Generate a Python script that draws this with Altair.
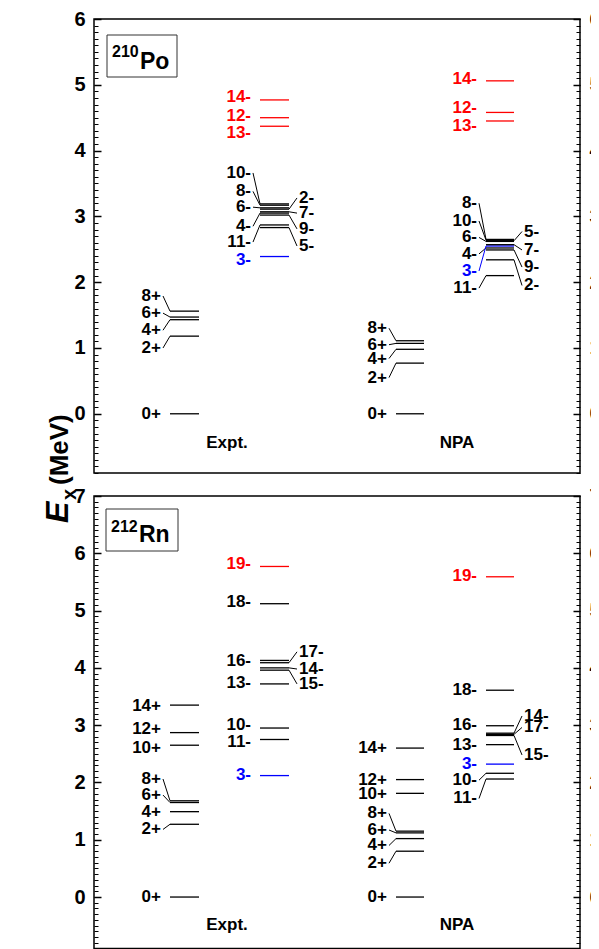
import altair as alt
import pandas as pd

FONT = "Liberation Sans"

# ---------------- 210Po ----------------
PO_ISOTOPE = ["210", "Po"]
PO_EXPT_POS_SPIN = ["0+", "2+", "4+", "6+", "8+"]
PO_EXPT_POS_E = [0.00, 1.18, 1.43, 1.47, 1.56]
PO_EXPT_POS_LABEL = [0.00, 1.00, 1.27, 1.53, 1.79]
PO_EXPT_POS_LINK = [0, 1, 1, 1, 1]

PO_EXPT_NEG_SPIN = ["14-", "12-", "13-", "10-", "8-", "6-", "4-", "11-", "3-", "2-", "7-", "9-", "5-"]
PO_EXPT_NEG_E = [4.77, 4.50, 4.37, 3.19, 3.17, 3.13, 3.05, 2.87, 2.39, 3.11, 3.07, 3.02, 2.83]
PO_EXPT_NEG_LABEL = [4.82, 4.53, 4.27, 3.66, 3.38, 3.14, 2.85, 2.61, 2.34, 3.28, 3.05, 2.81, 2.55]
PO_EXPT_NEG_SIDE = ["L"] * 9 + ["R"] * 4
PO_EXPT_NEG_LINK = [0, 0, 0, 1, 1, 1, 1, 1, 0, 1, 1, 1, 1]
PO_EXPT_NEG_GROUP = ["high"] * 3 + ["base"] * 5 + ["oct"] + ["base"] * 4

PO_NPA_POS_SPIN = ["0+", "2+", "4+", "6+", "8+"]
PO_NPA_POS_E = [0.00, 0.77, 0.98, 1.07, 1.11]
PO_NPA_POS_LABEL = [0.00, 0.55, 0.84, 1.05, 1.30]
PO_NPA_POS_LINK = [0, 1, 1, 1, 1]

PO_NPA_NEG_SPIN = ["14-", "12-", "13-", "8-", "10-", "6-", "4-", "3-", "11-", "5-", "7-", "9-", "2-"]
PO_NPA_NEG_E = [5.06, 4.58, 4.45, 2.65, 2.64, 2.62, 2.52, 2.55, 2.10, 2.63, 2.57, 2.49, 2.34]
PO_NPA_NEG_LABEL = [5.09, 4.64, 4.37, 3.20, 2.93, 2.68, 2.43, 2.17, 1.91, 2.77, 2.49, 2.23, 1.95]
PO_NPA_NEG_SIDE = ["L"] * 9 + ["R"] * 4
PO_NPA_NEG_LINK = [0, 0, 0, 1, 1, 1, 1, 1, 1, 1, 1, 1, 1]
PO_NPA_NEG_GROUP = ["high"] * 3 + ["base"] * 4 + ["oct"] + ["base"] * 5

# ---------------- 212Rn ----------------
RN_ISOTOPE = ["212", "Rn"]
RN_EXPT_POS_SPIN = ["0+", "2+", "4+", "6+", "8+", "10+", "12+", "14+"]
RN_EXPT_POS_E = [0.00, 1.27, 1.49, 1.65, 1.68, 2.65, 2.87, 3.35]
RN_EXPT_POS_LABEL = [0.00, 1.18, 1.49, 1.78, 2.06, 2.61, 2.94, 3.34]
RN_EXPT_POS_LINK = [0, 1, 0, 1, 1, 0, 0, 0]

RN_EXPT_NEG_SPIN = ["19-", "18-", "16-", "13-", "10-", "11-", "3-", "17-", "14-", "15-"]
RN_EXPT_NEG_E = [5.77, 5.12, 4.13, 3.72, 2.95, 2.75, 2.12, 4.09, 4.00, 3.96]
RN_EXPT_NEG_LABEL = [5.81, 5.15, 4.12, 3.74, 3.00, 2.71, 2.13, 4.28, 3.98, 3.72]
RN_EXPT_NEG_SIDE = ["L"] * 7 + ["R"] * 3
RN_EXPT_NEG_LINK = [0, 0, 0, 0, 0, 0, 0, 1, 1, 1]
RN_EXPT_NEG_GROUP = ["high"] + ["base"] * 5 + ["oct"] + ["base"] * 3

RN_NPA_POS_SPIN = ["0+", "2+", "4+", "6+", "8+", "10+", "12+", "14+"]
RN_NPA_POS_E = [0.00, 0.80, 1.02, 1.12, 1.15, 1.81, 2.05, 2.60]
RN_NPA_POS_LABEL = [0.00, 0.59, 0.90, 1.17, 1.46, 1.79, 2.04, 2.60]
RN_NPA_POS_LINK = [0, 1, 1, 1, 1, 0, 0, 0]

RN_NPA_NEG_SPIN = ["19-", "18-", "16-", "13-", "3-", "10-", "11-", "14-", "17-", "15-"]
RN_NPA_NEG_E = [5.59, 3.61, 2.99, 2.66, 2.32, 2.16, 2.06, 2.86, 2.84, 2.82]
RN_NPA_NEG_LABEL = [5.61, 3.62, 3.00, 2.65, 2.33, 2.04, 1.72, 3.16, 2.96, 2.48]
RN_NPA_NEG_SIDE = ["L"] * 7 + ["R"] * 3
RN_NPA_NEG_LINK = [0, 0, 0, 0, 0, 1, 1, 1, 1, 1]
RN_NPA_NEG_GROUP = ["high"] + ["base"] * 3 + ["oct"] + ["base"] * 5

CAPTIONS = ["Expt.", "NPA"]
AXIS_TITLE = ["E", "x", "(MeV)"]

# ---------------- layout (pixels inside the plot area) ----------------
PANEL_W = 486
PLOT_H = 930
TOP_RANGE = [454, 0]          # -0.9 MeV .. 6 MeV
BOT_RANGE = [929.6, 477]      # -0.9 MeV .. 7 MeV
COLUMN_SPAN = {"expt_pos": (76, 105), "expt_neg": (166, 195),
               "npa_pos": (302, 330), "npa_neg": (392, 420)}
CAPTION_X = [133, 363]

COLOR = alt.Scale(domain=["base", "high", "oct"], range=["#000000", "#ff0000", "#0000ff"])
XSC = alt.Scale(domain=[0, PANEL_W], nice=False, zero=False)


def column_frame(col, spins, energies, labels, links, sides=None, groups=None):
    n = len(spins)
    df = pd.DataFrame({
        "spin": spins, "E": energies, "lab": labels, "link": links,
        "side": sides if sides else ["L"] * n,
        "grp": groups if groups else ["base"] * n,
    })
    x0, x1 = COLUMN_SPAN[col]
    left = df["side"] == "L"
    df["x0"] = x0
    df["x1"] = x1
    df["tx"] = [x0 - 9 if l else x1 + 10 for l in left]
    df["ax"] = [x0 - 7 if l else x1 + 8 for l in left]
    df["bx"] = [x0 if l else x1 for l in left]
    return df


def axis_major(orient, vals, pad):
    return alt.Axis(orient=orient, offset=-7, tickSize=7, tickWidth=1.5, tickColor="black",
                    values=vals, labelPadding=pad, domain=False, grid=False, title=None,
                    labelFont=FONT, labelFontSize=20, labelFontWeight="bold",
                    labelColor="black", labelFlush=False, labelOverlap=False)


def axis_minor(orient, vals):
    return alt.Axis(orient=orient, offset=-4, tickSize=4, tickWidth=1, tickColor="black",
                    values=vals, labels=False, domain=False, grid=False, title=None)


def panel_layers(df, ymin, ymax, yrange, caption_y, isotope, box_y, mass_y, sym_y, box_x):
    ysc = alt.Scale(domain=[ymin, ymax], range=yrange, nice=False, zero=False)
    major = list(range(0, ymax + 1))
    n_minor = int((ymax - ymin) * 10 + 1e-6)
    minor = [round(ymax - 0.1 * i, 1) for i in range(n_minor + 1)]
    col = alt.Color("grp:N", scale=COLOR, legend=None)
    base = alt.Chart(df)
    lines = base.mark_rule(strokeWidth=1.3).encode(
        x=alt.X("x0:Q", scale=XSC, axis=None), x2="x1:Q",
        y=alt.Y("E:Q", scale=ysc, axis=axis_major("left", major, 9)), color=col)
    links = base.transform_filter("datum.link == 1").mark_rule(strokeWidth=1).encode(
        x=alt.X("ax:Q", scale=XSC, axis=None), x2="bx:Q",
        y=alt.Y("lab:Q", scale=ysc, axis=axis_minor("left", minor)), y2="E:Q", color=col)
    lab_l = base.transform_filter("datum.side == 'L'").mark_text(
        align="right", baseline="middle", font=FONT, fontWeight="bold", fontSize=17).encode(
        x=alt.X("tx:Q", scale=XSC, axis=None),
        y=alt.Y("lab:Q", scale=ysc, axis=axis_major("right", major, 9)),
        text="spin:N", color=col)
    lab_r = base.transform_filter("datum.side == 'R'").mark_text(
        align="left", baseline="middle", font=FONT, fontWeight="bold", fontSize=17).encode(
        x=alt.X("tx:Q", scale=XSC, axis=None),
        y=alt.Y("lab:Q", scale=ysc, axis=axis_minor("right", minor)),
        text="spin:N", color=col)
    cap_df = pd.DataFrame({"t": CAPTIONS, "x": CAPTION_X, "y": [caption_y] * 2})
    caps = alt.Chart(cap_df).mark_text(
        align="center", baseline="middle", font=FONT, fontWeight="bold", fontSize=17,
        color="black").encode(
        x=alt.X("x:Q", scale=XSC, axis=None), y=alt.Y("y:Q", scale=ysc, axis=None), text="t:N")
    frame_df = pd.DataFrame({"lo": [ymin], "hi": [ymax]})
    frame = alt.Chart(frame_df).mark_rect(filled=False, stroke="black", strokeWidth=1.5).encode(
        x=alt.value(0), x2=alt.value(PANEL_W),
        y=alt.Y("hi:Q", scale=ysc, axis=None), y2="lo:Q")
    iso = pd.DataFrame({"mass": [isotope[0]], "sym": [isotope[1]]})
    box = alt.Chart(iso).mark_rect(fill="white", stroke="#333333", strokeWidth=1).encode(
        x=alt.value(box_x[0]), x2=alt.value(box_x[1]),
        y=alt.value(box_y[0]), y2=alt.value(box_y[1]))
    mass = alt.Chart(iso).mark_text(align="left", baseline="alphabetic", font=FONT,
                                    fontWeight="bold", fontSize=16, color="black").encode(
        x=alt.value(box_x[0] + 5), y=alt.value(mass_y), text="mass:N")
    sym = alt.Chart(iso).mark_text(align="left", baseline="alphabetic", font=FONT,
                                   fontWeight="bold", fontSize=23, color="black").encode(
        x=alt.value(box_x[0] + 33), y=alt.value(sym_y), text="sym:N")
    return [frame, lines, links, lab_l, lab_r, caps, box, mass, sym]


po = pd.concat([
    column_frame("expt_pos", PO_EXPT_POS_SPIN, PO_EXPT_POS_E, PO_EXPT_POS_LABEL, PO_EXPT_POS_LINK),
    column_frame("expt_neg", PO_EXPT_NEG_SPIN, PO_EXPT_NEG_E, PO_EXPT_NEG_LABEL, PO_EXPT_NEG_LINK,
                 PO_EXPT_NEG_SIDE, PO_EXPT_NEG_GROUP),
    column_frame("npa_pos", PO_NPA_POS_SPIN, PO_NPA_POS_E, PO_NPA_POS_LABEL, PO_NPA_POS_LINK),
    column_frame("npa_neg", PO_NPA_NEG_SPIN, PO_NPA_NEG_E, PO_NPA_NEG_LABEL, PO_NPA_NEG_LINK,
                 PO_NPA_NEG_SIDE, PO_NPA_NEG_GROUP),
], ignore_index=True)

rn = pd.concat([
    column_frame("expt_pos", RN_EXPT_POS_SPIN, RN_EXPT_POS_E, RN_EXPT_POS_LABEL, RN_EXPT_POS_LINK),
    column_frame("expt_neg", RN_EXPT_NEG_SPIN, RN_EXPT_NEG_E, RN_EXPT_NEG_LABEL, RN_EXPT_NEG_LINK,
                 RN_EXPT_NEG_SIDE, RN_EXPT_NEG_GROUP),
    column_frame("npa_pos", RN_NPA_POS_SPIN, RN_NPA_POS_E, RN_NPA_POS_LABEL, RN_NPA_POS_LINK),
    column_frame("npa_neg", RN_NPA_NEG_SPIN, RN_NPA_NEG_E, RN_NPA_NEG_LABEL, RN_NPA_NEG_LINK,
                 RN_NPA_NEG_SIDE, RN_NPA_NEG_GROUP),
], ignore_index=True)

top_layers = panel_layers(po, -0.9, 6, TOP_RANGE, -0.44, PO_ISOTOPE,
                          box_y=(16, 58), mass_y=38, sym_y=49.5, box_x=(13, 83))
bot_layers = panel_layers(rn, -0.9, 7, BOT_RANGE, -0.48, RN_ISOTOPE,
                          box_y=(490, 532), mass_y=512.5, sym_y=523, box_x=(12, 84))

# shared y-axis title E_x (MeV), rotated, centred between the panels
ttl = pd.DataFrame({"t": AXIS_TITLE})
title_e = alt.Chart(ttl).transform_filter("datum.t == 'E'").mark_text(
    angle=270, align="left", baseline="alphabetic", font=FONT, fontWeight="bold",
    fontStyle="italic", fontSize=32, color="black").encode(
    x=alt.value(-26), y=alt.value(504), text="t:N")
title_x = alt.Chart(ttl).transform_filter("datum.t == 'x'").mark_text(
    angle=270, align="left", baseline="alphabetic", font=FONT, fontWeight="bold",
    fontSize=20, color="black").encode(
    x=alt.value(-18), y=alt.value(481), text="t:N")
title_u = alt.Chart(ttl).transform_filter("datum.t == '(MeV)'").mark_text(
    angle=270, align="left", baseline="alphabetic", font=FONT, fontWeight="bold",
    fontSize=26, color="black").encode(
    x=alt.value(-26), y=alt.value(466), text="t:N")

# the svg is kept at 583 px wide (the page's content width) so nothing is rescaled;
# the right-hand tick labels run past its edge and are clipped, as in the reference
chart = alt.layer(*top_layers, *bot_layers, title_e, title_x, title_u).resolve_scale(
    y="independent"
).properties(
    width=PANEL_W, height=PLOT_H,
    autosize=alt.AutoSizeParams(type="none"),
    padding={"left": 86, "top": 11, "right": 11, "bottom": 0},
).configure_view(strokeOpacity=0)

chart.save("out.html", embed_options={"renderer": "svg", "actions": False})
